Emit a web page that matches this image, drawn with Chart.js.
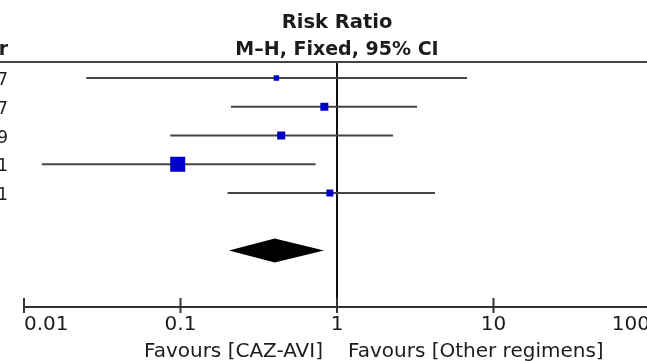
<!DOCTYPE html>
<html>
<head>
<meta charset="utf-8">
<script src="https://cdn.jsdelivr.net/npm/chart.js@4"></script>
<style>
    html, body { margin: 0; padding: 0; background: #fff; overflow: hidden; }
    canvas { display: block; }
</style>
</head>
<body>
<canvas id="forestChart" width="700" height="361"></canvas>
<script>
// study rows (only the tail of the year column is visible)
const studyYears = ["2017", "2017", "2019", "2021", "2021"];
const studyRows = [1, 2, 3, 4, 5];
const riskRatio = [0.41, 0.83, 0.44, 0.096, 0.90];
const ciLower = [0.025, 0.21, 0.086, 0.013, 0.20];
const ciUpper = [6.77, 3.25, 2.28, 0.73, 4.23];
const weightPct = [6.9, 14.7, 14.9, 52.2, 11.3];

// pooled estimate
const pooledRow = 7;
const pooledRR = 0.40;
const pooledLower = 0.204;
const pooledUpper = 0.826;

const tickValues = [0.01, 0.1, 1, 10, 100];
const favourLeft = "Favours [CAZ-AVI]";
const favourRight = "Favours [Other regimens]";

const FONT = "'DejaVu Sans', Verdana, sans-serif";
const TEXT = "#1c1c1c";

// square side grows with sqrt(weight); radius for 'rect' = side / sqrt(2)
const squareRadius = weightPct.map(w => 2.08 * Math.sqrt(w) / Math.SQRT2);

const ciDatasets = studyRows.map((y, i) => ({
    data: [{ x: ciLower[i], y: y }, { x: ciUpper[i], y: y }],
    showLine: true,
    borderColor: "#444",
    borderWidth: 2,
    pointRadius: 0,
    order: 2
}));

const forestPlugin = {
    id: "forest",
    beforeDatasetsDraw(chart) {
        const { ctx, chartArea, scales } = chart;
        const x1 = scales.x.getPixelForValue(1);
        ctx.save();
        // line of no effect
        ctx.strokeStyle = "#111";
        ctx.lineWidth = 2;
        ctx.beginPath();
        ctx.moveTo(x1, chartArea.top);
        ctx.lineTo(x1, chartArea.bottom);
        ctx.stroke();
        ctx.restore();
    },
    afterDatasetsDraw(chart) {
        const { ctx, chartArea, scales } = chart;
        const xs = scales.x, ys = scales.y;
        ctx.save();

        // pooled diamond
        const cy = ys.getPixelForValue(pooledRow);
        ctx.fillStyle = "#000";
        ctx.beginPath();
        ctx.moveTo(xs.getPixelForValue(pooledLower), cy);
        ctx.lineTo(xs.getPixelForValue(pooledRR), cy - 12);
        ctx.lineTo(xs.getPixelForValue(pooledUpper), cy);
        ctx.lineTo(xs.getPixelForValue(pooledRR), cy + 12);
        ctx.closePath();
        ctx.fill();

        // header rule
        ctx.strokeStyle = "#444";
        ctx.lineWidth = 2;
        ctx.beginPath();
        ctx.moveTo(0, chartArea.top);
        ctx.lineTo(chart.width, chartArea.top);
        ctx.stroke();

        // tick marks crossing the axis
        ctx.strokeStyle = "#333";
        tickValues.forEach(v => {
            const px = xs.getPixelForValue(v);
            ctx.beginPath();
            ctx.moveTo(px, chartArea.bottom - 9);
            ctx.lineTo(px, chartArea.bottom + 6);
            ctx.stroke();
        });

        const xc = xs.getPixelForValue(1);
        ctx.fillStyle = TEXT;
        ctx.textBaseline = "alphabetic";

        // column header
        ctx.font = "bold 19.5px " + FONT;
        ctx.textAlign = "center";
        ctx.fillText("Risk Ratio", xc, 28);
        ctx.font = "bold 19px " + FONT;
        ctx.fillText("M\u2013H, Fixed, 95% CI", xc, 55);

        // year column, cut at the left edge
        ctx.textAlign = "right";
        ctx.fillText("Year", 8, 55);
        ctx.font = "17px " + FONT;
        studyRows.forEach((r, i) => {
            ctx.fillText(studyYears[i], 8, ys.getPixelForValue(r) + 7);
        });

        // favours labels
        ctx.font = "20px " + FONT;
        ctx.textAlign = "right";
        ctx.fillText(favourLeft, xc - 14, 357);
        ctx.textAlign = "left";
        ctx.fillText(favourRight, xc + 11, 357);

        ctx.restore();
    }
};

new Chart(document.getElementById("forestChart"), {
    type: "scatter",
    data: {
        datasets: [{
            data: studyRows.map((y, i) => ({ x: riskRatio[i], y: y })),
            pointStyle: "rect",
            pointRadius: squareRadius,
            pointHoverRadius: squareRadius,
            backgroundColor: "#0000cc",
            borderWidth: 0,
            order: 1
        }, ...ciDatasets]
    },
    options: {
        responsive: false,
        animation: false,
        devicePixelRatio: 1,
        layout: { padding: { left: 24, right: 50, top: 62, bottom: 0 } },
        plugins: { legend: { display: false }, tooltip: { enabled: false } },
        scales: {
            x: {
                type: "logarithmic",
                min: 0.01,
                max: 100,
                afterBuildTicks: s => { s.ticks = tickValues.map(v => ({ value: v })); },
                afterFit: s => { s.height = 54; },
                border: { display: true, color: "#333", width: 2 },
                grid: { drawOnChartArea: false, drawTicks: false },
                ticks: {
                    align: "inner",
                    autoSkip: false,
                    maxRotation: 0,
                    padding: 6,
                    color: TEXT,
                    font: { family: FONT, size: 20 },
                    callback: v => String(v)
                }
            },
            y: {
                type: "linear",
                display: false,
                reverse: true,
                min: 0.443,
                max: 8.965
            }
        }
    },
    plugins: [forestPlugin]
});
</script>
</body>
</html>
